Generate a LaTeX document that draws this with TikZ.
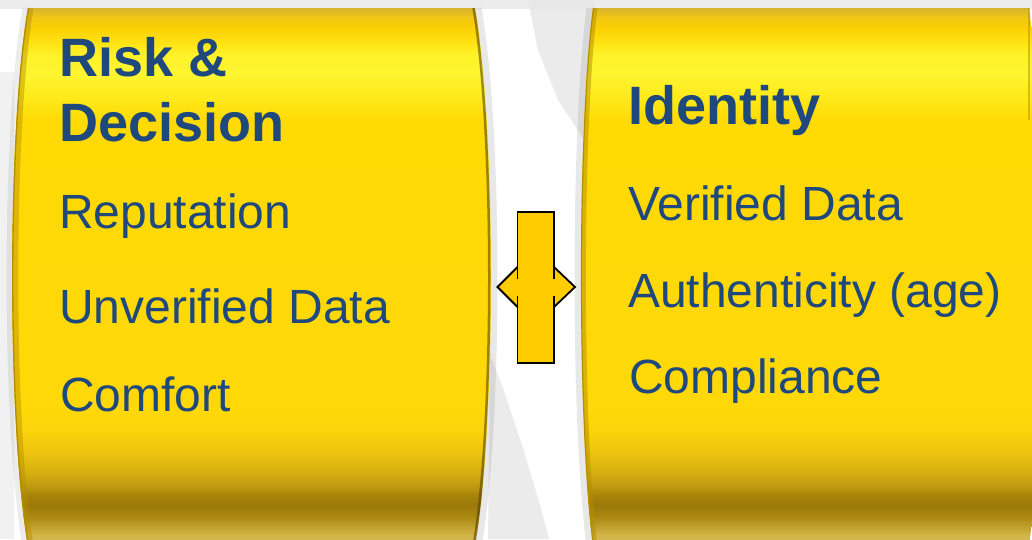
\documentclass[tikz,border=0pt]{standalone}
\usepackage{fontspec}
\setmainfont{Liberation Sans}

% colours
\definecolor{textblue}{HTML}{1F497D}
\definecolor{arrowfill}{HTML}{FFCC00}
\definecolor{bggray}{HTML}{E8E8E8}
\definecolor{topgray}{HTML}{ECECEC}
\definecolor{edgegold}{HTML}{B48E00}
\definecolor{edgedark}{HTML}{4A3C00}

% vertical stops of the gold panel (bottom to top)
\definecolor{gA}{HTML}{D9C060}
\definecolor{gB}{HTML}{D2B446}
\definecolor{gC}{HTML}{BE9C28}
\definecolor{gD}{HTML}{A8860E}
\definecolor{gE}{HTML}{9C7A0A}
\definecolor{gF}{HTML}{A88508}
\definecolor{gG}{HTML}{C29C10}
\definecolor{gH}{HTML}{D9B210}
\definecolor{gI}{HTML}{EEC610}
\definecolor{gJ}{HTML}{FBD40A}
\definecolor{gK}{HTML}{FFD808}
\definecolor{gL}{HTML}{FFDA05}
\definecolor{gM}{HTML}{FFE818}
\definecolor{gN}{HTML}{FFF530}
\definecolor{gO}{HTML}{FFF22A}
\definecolor{gP}{HTML}{FFE010}
\definecolor{gQ}{HTML}{FBD004}
\definecolor{gR}{HTML}{F2C812}
\definecolor{gS}{HTML}{D8B42E}

\pgfdeclareverticalshading{panelgold}{100bp}{%
  color(0bp)=(gA); color(25bp)=(gA); color(26.02bp)=(gB); color(26.95bp)=(gC);
  color(27.88bp)=(gD); color(28.81bp)=(gE); color(29.74bp)=(gF);
  color(30.67bp)=(gG); color(32.06bp)=(gH); color(33.92bp)=(gI);
  color(35.78bp)=(gJ); color(37.64bp)=(gK); color(64.59bp)=(gL);
  color(66.45bp)=(gM); color(68.77bp)=(gN); color(70.63bp)=(gO);
  color(72.03bp)=(gP); color(73.14bp)=(gQ); color(74.07bp)=(gR);
  color(75bp)=(gS); color(100bp)=(gS)}

\tikzset{
  heading/.style={anchor=base west, inner sep=0pt, text=textblue,
    font=\fontsize{54}{62}\selectfont\bfseries},
  entry/.style={anchor=base west, inner sep=0pt, text=textblue,
    font=\fontsize{48}{56}\selectfont},
  arrowline/.style={draw=black, line width=1.8pt, line cap=butt, line join=miter},
}

\begin{document}
\begin{tikzpicture}[x=1pt, y=-1pt]
  \useasboundingbox (0,0) rectangle (1032,539);
  \clip (0,0) rectangle (1032,539);

  % backdrop
  \fill[white] (0,0) rectangle (1032,539);
  \fill[topgray] (0,0) rectangle (1032,9);
  \fill[bggray, opacity=0.6] (0,72) rectangle (14,539);
  \fill[bggray, opacity=0.85] (528,0) -- (538,50) -- (558,100) -- (583,138) -- (594,8) -- (594,0) -- cycle;
  \fill[bggray, opacity=0.85] (490,355) -- (502,385) -- (522,445) -- (540,505) -- (549,539) -- (488,539) -- cycle;

  % soft shadows beside the panels
  \draw[gray, opacity=0.18, line width=7pt]
    (478,8) .. controls (499.3,128) and (499.3,426) .. (478,546);
  \draw[gray, opacity=0.18, line width=7pt]
    (590,8) .. controls (574,128) and (574,426) .. (590,546);
  \draw[gray, opacity=0.15, line width=5pt]
    (25,8) .. controls (3.7,128) and (3.7,426) .. (25,546);

  % left panel
  \shade[shading=panelgold]
    (28,8) -- (475,8) .. controls (496.3,128) and (496.3,426) .. (475,546)
    -- (28,546) .. controls (6.7,426) and (6.7,128) .. (28,8) -- cycle;
  % right panel
  \shade[shading=panelgold]
    (593,8) -- (1029,8) .. controls (1045,128) and (1045,426) .. (1029,546)
    -- (593,546) .. controls (577,426) and (577,128) .. (593,8) -- cycle;

  % darker rims along the curved sides
  \draw[edgegold, opacity=0.45, line width=5pt]
    (31,8) .. controls (10.7,128) and (10.7,426) .. (31,546);
  \draw[edgegold, line width=1.4pt]
    (28.5,8) .. controls (7.5,128) and (7.5,426) .. (28.5,546);
  \draw[edgedark, opacity=0.55, line width=2.5pt]
    (473.5,8) .. controls (494.5,128) and (494.5,426) .. (473.5,546);
  \draw[edgegold, opacity=0.5, line width=4pt]
    (595.5,8) .. controls (580,128) and (580,426) .. (595.5,546);
  \draw[edgegold, line width=1.2pt]
    (593.5,8) .. controls (577.5,128) and (577.5,426) .. (593.5,546);
  \draw[edgegold, opacity=0.5, line width=1.5pt] (1029,8) -- (1029,120);

  % two-way arrow between the panels
  \coordinate (atl) at (517.5,211.7);
  \coordinate (atr) at (554,211.7);
  \coordinate (abr) at (554,362.7);
  \coordinate (abl) at (517.5,362.7);
  \coordinate (tipL) at (497.5,287);
  \coordinate (tipR) at (575,287);
  \fill[arrowfill] (atl) -- (atr) -- (554,268) -- (tipR) -- (554,306) -- (abr)
    -- (abl) -- (517.5,306) -- (tipL) -- (517.5,268) -- cycle;
  \draw[arrowline] (517.5,279) -- (atl) -- (atr) -- (554,279);
  \draw[arrowline] (554,296) -- (abr) -- (abl) -- (517.5,296);
  \draw[arrowline] (517.5,267) -- (tipL) -- (517.5,307);
  \draw[arrowline] (554,267) -- (tipR) -- (554,307);

  % left panel text
  \node[heading] (riskA) at (59,76.3) {Risk \&};
  \node[heading] (riskB) at (59,141.6) {Decision};
  \node[entry] (rep) at (59,228.6) {Reputation};
  \node[entry] (unv) at (59,323.1) {Unverified Data};
  \node[entry] (comf) at (60,411.5) {Comfort};

  % right panel text
  \node[heading] (ident) at (628,124.4) {Identity};
  \node[entry] (ver) at (628,220) {Verified Data};
  \node[entry] (auth) at (628,307.7) {Authenticity (age)};
  \node[entry] (compl) at (629,393.6) {Compliance};
\end{tikzpicture}
\end{document}
